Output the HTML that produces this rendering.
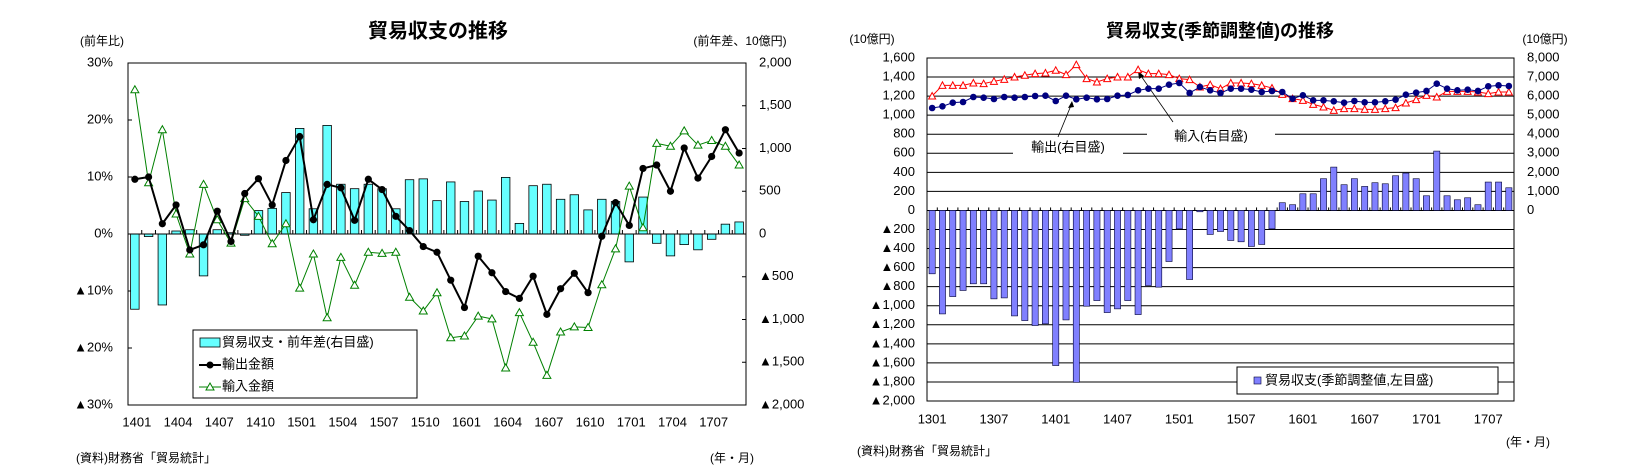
<!DOCTYPE html>
<html><head><meta charset="utf-8"><style>
html,body{margin:0;padding:0;background:#fff;}
svg{display:block;font-family:"Liberation Sans","Noto Sans CJK JP",sans-serif;}
</style></head><body>
<svg id="svg" width="1641" height="472" viewBox="0 0 1641 472" xmlns="http://www.w3.org/2000/svg"></svg>
<script>
// ---- Left chart data (1401..1709) ----
const leftCats = ["1401","1402","1403","1404","1405","1406","1407","1408","1409","1410","1411","1412","1501","1502","1503","1504","1505","1506","1507","1508","1509","1510","1511","1512","1601","1602","1603","1604","1605","1606","1607","1608","1609","1610","1611","1612","1701","1702","1703","1704","1705","1706","1707","1708","1709"];
const leftBalanceDiff = [-880,-30,-830,35,50,-490,50,15,-15,274,300,485,1235,295,1270,582,530,582,530,295,635,645,390,609,380,503,397,662,124,565,582,406,459,282,406,380,-326,432,-109,-256,-124,-185,-62,115,141];
const leftExports = [9.6,10.0,1.8,5.1,-2.8,-1.9,4.0,-1.3,7.1,9.7,5.1,12.9,17.1,2.5,8.7,8.1,2.4,9.6,7.8,3.1,0.6,-2.2,-3.2,-8.1,-12.9,-3.9,-6.8,-10.1,-11.3,-7.4,-14.1,-9.6,-6.9,-10.3,-0.4,5.5,1.5,11.5,12.1,7.5,15.1,9.8,13.6,18.3,14.2];
const leftImports = [25.3,9.0,18.3,3.5,-3.5,8.7,2.5,-1.6,6.2,3.1,-1.7,1.8,-9.5,-3.5,-14.7,-4.1,-9.0,-3.2,-3.4,-3.2,-11.1,-13.5,-10.3,-18.2,-17.9,-14.4,-14.9,-23.5,-13.8,-19.0,-24.8,-17.2,-16.3,-16.4,-8.9,-2.6,8.4,1.1,15.9,15.4,18.1,15.6,16.4,15.4,12.1];
const leftTicksL = [30,20,10,0,-10,-20,-30];
const leftTicksLLabels = ["30%","20%","10%","0%","▲10%","▲20%","▲30%"];
const leftTicksR = [2000,1500,1000,500,0,-500,-1000,-1500,-2000];
const leftTicksRLabels = ["2,000","1,500","1,000","500","0","▲500","▲1,000","▲1,500","▲2,000"];
const leftXLabels = ["1401","1404","1407","1410","1501","1504","1507","1510","1601","1604","1607","1610","1701","1704","1707"];

// ---- Right chart data (1301..1709) ----
const rightBalance = [-665,-1086,-904,-840,-770,-770,-928,-918,-1107,-1156,-1208,-1190,-1628,-1149,-1804,-1005,-946,-1072,-1033,-946,-1093,-788,-805,-536,-193,-725,-14,-252,-221,-315,-329,-378,-357,-193,81,60,175,175,333,455,270,333,252,291,280,364,392,333,154,623,154,112,133,60,298,298,238];
const rightExports = [5376,5463,5656,5691,5953,5918,5848,5953,5918,5953,6006,6023,5743,6023,5831,5918,5831,5848,6023,6059,6304,6391,6391,6601,6689,6164,6479,6304,6164,6391,6391,6339,6216,6269,6216,5866,6041,5778,5778,5726,5656,5743,5673,5673,5726,5813,6076,6181,6269,6654,6391,6304,6339,6269,6514,6566,6531];
const rightImports = [6006,6566,6566,6566,6689,6654,6776,6881,7004,7092,7179,7214,7354,7127,7652,6916,6741,6916,7004,7004,7389,7179,7179,7127,6916,6864,6479,6601,6391,6689,6689,6654,6566,6426,6094,5866,5778,5568,5428,5253,5341,5341,5306,5306,5341,5393,5638,5813,6041,5953,6251,6251,6251,6216,6129,6216,6216];
const rightTicksL = [1600,1400,1200,1000,800,600,400,200,0,-200,-400,-600,-800,-1000,-1200,-1400,-1600,-1800,-2000];
const rightTicksLLabels = ["1,600","1,400","1,200","1,000","800","600","400","200","0","▲200","▲400","▲600","▲800","▲1,000","▲1,200","▲1,400","▲1,600","▲1,800","▲2,000"];
const rightTicksR = [8000,7000,6000,5000,4000,3000,2000,1000,0];
const rightTicksRLabels = ["8,000","7,000","6,000","5,000","4,000","3,000","2,000","1,000","0"];
const rightXLabels = ["1301","1307","1401","1407","1501","1507","1601","1607","1701","1707"];

const NS="http://www.w3.org/2000/svg";
const svg=document.getElementById('svg');
function mk(tag,attrs,parent){const e=document.createElementNS(NS,tag);for(const k in attrs)e.setAttribute(k,attrs[k]);(parent||svg).appendChild(e);return e;}
function txt(x,y,s,size,anchor,parent,weight){const t=mk('text',{x:x,y:y,'font-size':size,'text-anchor':anchor||'start','dominant-baseline':'middle',fill:'#000'},parent);if(weight)t.setAttribute('font-weight',weight);t.textContent=s;return t;}

// ================= LEFT CHART =================
const L={x0:128,x1:746,y0:63,y1:405};
const lN=leftCats.length, lStep=(L.x1-L.x0)/lN;
const lx=i=>L.x0+lStep*(i+0.5);
const lyL=v=>L.y0+(30-v)/60*(L.y1-L.y0);
const lyR=v=>L.y0+(2000-v)/4000*(L.y1-L.y0);
const gL=mk('g',{});


let t=txt(438,32,'貿易収支の推移',20,'middle',gL,'bold');

t=txt(102,42,'(前年比)',12,'middle',gL);

t=txt(740,42,'(前年差、10億円)',12,'middle',gL);

leftTicksL.forEach((v,i)=>{const y=lyL(v);
  const e=txt(113,y,leftTicksLLabels[i],13,'end',gL);
  
  mk('line',{x1:L.x0,x2:L.x0+4,y1:y,y2:y,stroke:'#000','stroke-width':1},gL);});
leftTicksR.forEach((v,i)=>{const y=lyR(v);
  const e=txt(759,y,leftTicksRLabels[i],13,'start',gL);
  
  mk('line',{x1:L.x1-4,x2:L.x1,y1:y,y2:y,stroke:'#000','stroke-width':1},gL);});
leftXLabels.forEach(s=>{const i=leftCats.indexOf(s);
  const e=txt(lx(i)+2,423,s,13,'middle',gL);
  });
leftBalanceDiff.forEach((v,i)=>{const y0=lyR(0),y=lyR(v);const w=lStep*0.62;
  const r=mk('rect',{x:lx(i)-w/2,y:Math.min(y,y0),width:w,height:Math.abs(y-y0),fill:'#66ffff',stroke:'#000','stroke-width':0.8},gL);
  });
mk('line',{x1:L.x0,x2:L.x1,y1:lyL(0),y2:lyL(0),stroke:'#000','stroke-width':1},gL);
for(let i=0;i<=lN;i++){const x=L.x0+lStep*i;mk('line',{x1:x,x2:x,y1:lyL(0),y2:lyL(0)-4,stroke:'#000','stroke-width':1},gL);}
let pts=leftImports.map((v,i)=>lx(i)+','+lyL(v)).join(' ');
let pl=mk('polyline',{points:pts,fill:'none',stroke:'#008000','stroke-width':1},gL);

leftImports.forEach((v,i)=>{const x=lx(i),y=lyL(v);
  const p=mk('polygon',{points:`${x},${y-4} ${x-4},${y+3} ${x+4},${y+3}`,fill:'#fff',stroke:'#008000','stroke-width':1},gL);
  });
pts=leftExports.map((v,i)=>lx(i)+','+lyL(v)).join(' ');
pl=mk('polyline',{points:pts,fill:'none',stroke:'#000','stroke-width':2},gL);

leftExports.forEach((v,i)=>{
  const c=mk('circle',{cx:lx(i),cy:lyL(v),r:3.6,fill:'#000'},gL);
  });
mk('rect',{x:L.x0,y:L.y0,width:L.x1-L.x0,height:L.y1-L.y0,fill:'none',stroke:'#000','stroke-width':1},gL);
const lg=mk('g',{},gL);

mk('rect',{x:193,y:330,width:224,height:68,fill:'#fff',stroke:'#000','stroke-width':1},lg);
mk('rect',{x:200,y:338,width:20,height:9,fill:'#66ffff',stroke:'#000','stroke-width':0.8},lg);
txt(222,343,'貿易収支・前年差(右目盛)',13,'start',lg);
mk('line',{x1:199,x2:221,y1:365,y2:365,stroke:'#000','stroke-width':2},lg);
mk('circle',{cx:210,cy:365,r:3.5,fill:'#000'},lg);
txt(222,365,'輸出金額',13,'start',lg);
mk('line',{x1:199,x2:221,y1:387,y2:387,stroke:'#008000','stroke-width':1},lg);
mk('polygon',{points:'210,383 206,390 214,390',fill:'#fff',stroke:'#008000'},lg);
txt(222,387,'輸入金額',13,'start',lg);
t=txt(76,459,'(資料)財務省「貿易統計」',12,'start',gL);

t=txt(732,459,'(年・月)',12,'middle',gL);


// ================= RIGHT CHART =================
const R={x0:927,x1:1514,y0:58,y1:401};
const rN=rightBalance.length, rStep=(R.x1-R.x0)/rN;
const rx=i=>R.x0+rStep*(i+0.5);
const ryL=v=>R.y0+(1600-v)/3600*(R.y1-R.y0);
const ryR=v=>ryL(v/5);
const gR=mk('g',{});


t=txt(1220,32,'貿易収支(季節調整値)の推移',18,'middle',gR,'bold');

t=txt(872,40,'(10億円)',12,'middle',gR);

t=txt(1545,40,'(10億円)',12,'middle',gR);

rightTicksL.forEach((v,i)=>{const y=ryL(v);
  const e=txt(915,y,rightTicksLLabels[i],13,'end',gR);
  
  mk('line',{x1:R.x0,x2:R.x1,y1:y,y2:y,stroke:'#000','stroke-width':1},gR);});
rightTicksR.forEach((v,i)=>{const y=ryR(v);
  const e=txt(1527,y,rightTicksRLabels[i],13,'start',gR);
  });
rightXLabels.forEach(s=>{const i=(parseInt(s.slice(0,2))-13)*12+parseInt(s.slice(2))-1;
  const e=txt(rx(i),420,s,13,'middle',gR);
  });
mk('rect',{x:1013,y:138,width:110,height:20,fill:'#fff'},gR);
t=txt(1068,148,'輸出(右目盛)',13,'middle',gR);

mk('line',{x1:1058,y1:137,x2:1072,y2:103,stroke:'#000','stroke-width':0.8},gR);
mk('polygon',{points:'1072,101 1068,108 1074,107',fill:'#000'},gR);
mk('rect',{x:1147,y:127,width:128,height:20,fill:'#fff'},gR);
t=txt(1211,137,'輸入(右目盛)',13,'middle',gR);

mk('line',{x1:1173,y1:122,x2:1139,y2:73,stroke:'#000','stroke-width':0.8},gR);
mk('polygon',{points:'1138,71 1139,79 1144,76',fill:'#000'},gR);
rightBalance.forEach((v,i)=>{const y0=ryL(0),y=ryL(v);const w=rStep*0.6;
  const r=mk('rect',{x:rx(i)-w/2,y:Math.min(y,y0),width:w,height:Math.max(1,Math.abs(y-y0)),fill:'#8080ff',stroke:'#000033','stroke-width':0.6},gR);
  });
for(let i=0;i<=rN;i++){const x=R.x0+rStep*i;mk('line',{x1:x,x2:x,y1:ryL(0),y2:ryL(0)-3,stroke:'#000','stroke-width':1},gR);}
pts=rightImports.map((v,i)=>rx(i)+','+ryR(v)).join(' ');
pl=mk('polyline',{points:pts,fill:'none',stroke:'#ff0000','stroke-width':1},gR);

rightImports.forEach((v,i)=>{const x=rx(i),y=ryR(v);
  const p=mk('polygon',{points:`${x},${y-3.5} ${x-3.5},${y+3} ${x+3.5},${y+3}`,fill:'#fff',stroke:'#ff0000','stroke-width':1},gR);
  });
pts=rightExports.map((v,i)=>rx(i)+','+ryR(v)).join(' ');
pl=mk('polyline',{points:pts,fill:'none',stroke:'#000080','stroke-width':1},gR);

rightExports.forEach((v,i)=>{
  const c=mk('circle',{cx:rx(i),cy:ryR(v),r:3.3,fill:'#000080'},gR);
  });
mk('rect',{x:R.x0,y:R.y0,width:R.x1-R.x0,height:R.y1-R.y0,fill:'none',stroke:'#000','stroke-width':1},gR);
const rg=mk('g',{},gR);

mk('rect',{x:1237,y:367,width:261,height:27,fill:'#fff',stroke:'#000','stroke-width':1},rg);
mk('rect',{x:1254,y:377,width:7,height:7,fill:'#8080ff',stroke:'#000033','stroke-width':0.6},rg);
txt(1265,381,'貿易収支(季節調整値,左目盛)',13,'start',rg);
t=txt(857,452,'(資料)財務省「貿易統計」',12,'start',gR);

t=txt(1528,443,'(年・月)',12,'middle',gR);

</script>
</body></html>
